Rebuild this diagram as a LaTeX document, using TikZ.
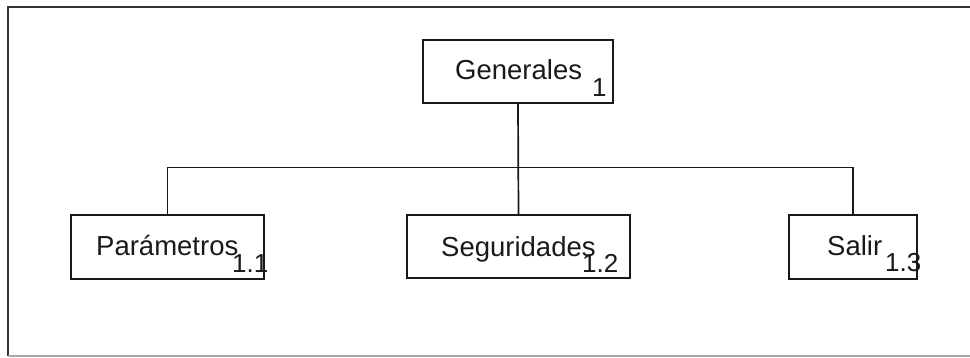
\documentclass[tikz,border=0pt]{standalone}
\usepackage{fontspec}
\setmainfont{Liberation Sans}
\begin{document}
\begin{tikzpicture}[x=1pt,y=-1pt,
  box/.style={draw=black!90, line width=1.7pt, minimum width=#1, inner sep=0pt, rectangle},
  lbl/.style={anchor=base west, inner sep=0pt, text=black!90, font=\fontsize{27.5}{30}\selectfont},
  num/.style={anchor=base west, inner sep=0pt, text=black!90, font=\fontsize{26}{28}\selectfont},
  conn/.style={draw=black!90, line width=1.7pt}]
\useasboundingbox (0,0) rectangle (970,358);
% outer frame
\draw[black!80, line width=1.4pt] (8,356) -- (8,7) -- (975,7);
\draw[black!35, line width=1.4pt] (8,356) -- (975,356);
% boxes
\node[box=190pt, minimum height=63pt] (g) at (518,71.5) {};
\node[box=193pt, minimum height=64pt] (p) at (167.5,247) {};
\node[box=223pt, minimum height=63pt] (s) at (518.5,246.5) {};
\node[box=128pt, minimum height=64pt] (x) at (853,247) {};
% connectors
\coordinate (bus) at (518,167.5);
\draw[conn] (g.south) -- (s.north);
\draw[conn] (p.north) |- (bus) -| (x.north);
% texts
\node[lbl] (gt) at (455,80) {Generales};
\node[num] (gn) at (592,97) {1};
\node[lbl] (pt) at (96,256) {Parámetros};
\node[num] (pn) at (232,273) {1.1};
\node[lbl] (st) at (441,257) {Seguridades};
\node[num] (sn) at (582,273) {1.2};
\node[lbl] (xt) at (827,256) {Salir};
\node[num] (xn) at (885,272) {1.3};
\end{tikzpicture}
\end{document}
